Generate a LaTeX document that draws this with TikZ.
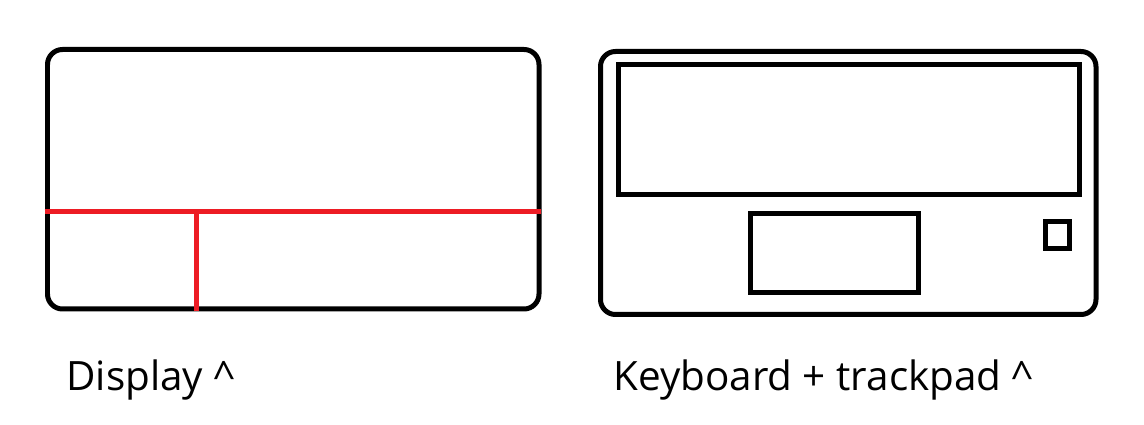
\documentclass[tikz,border=0pt]{standalone}
\usepackage{fontspec}
\setmainfont{Open Sans}
\usetikzlibrary{positioning}
\definecolor{paintred}{RGB}{237,28,36}
\tikzstyle{frame}=[draw=black, line width=0.1cm, rounded corners=0.3cm]
\tikzstyle{part}=[draw=black, line width=0.1cm]
\tikzstyle{split}=[draw=paintred, line width=0.1cm]
\tikzstyle{caption}=[anchor=base west, inner sep=0pt, font=\fontsize{23}{27}\selectfont]

\begin{document}
\begin{tikzpicture}[x=0.02cm, y=-0.02cm]
  \useasboundingbox (0,0) rectangle (1144,425);

  % display half
  \draw[frame] (47.5,49.5) rectangle (539,309);
  \coordinate (hl) at (44.5,211.5);
  \coordinate (hr) at (541,211.5);
  \coordinate (vt) at (196.5,211.5);
  \coordinate (vb) at (196.5,311);
  \draw[split] (hl) -- (hr);
  \draw[split] (vt) -- (vb);
  \node[caption] (display) at (66,391) {Display \^{}};

  % keyboard half
  \draw[frame] (600.5,51.5) rectangle (1096,314.5);
  \draw[part] (618,64.5) rectangle (1079.5,194.5);
  \draw[part] (750.5,213.5) rectangle (918.5,292.5);
  \draw[part] (1045.5,221.5) rectangle (1069.5,248.5);
  \node[caption] (keyboard) at (613,391) {Keyboard + trackpad \^{}};
\end{tikzpicture}
\end{document}
